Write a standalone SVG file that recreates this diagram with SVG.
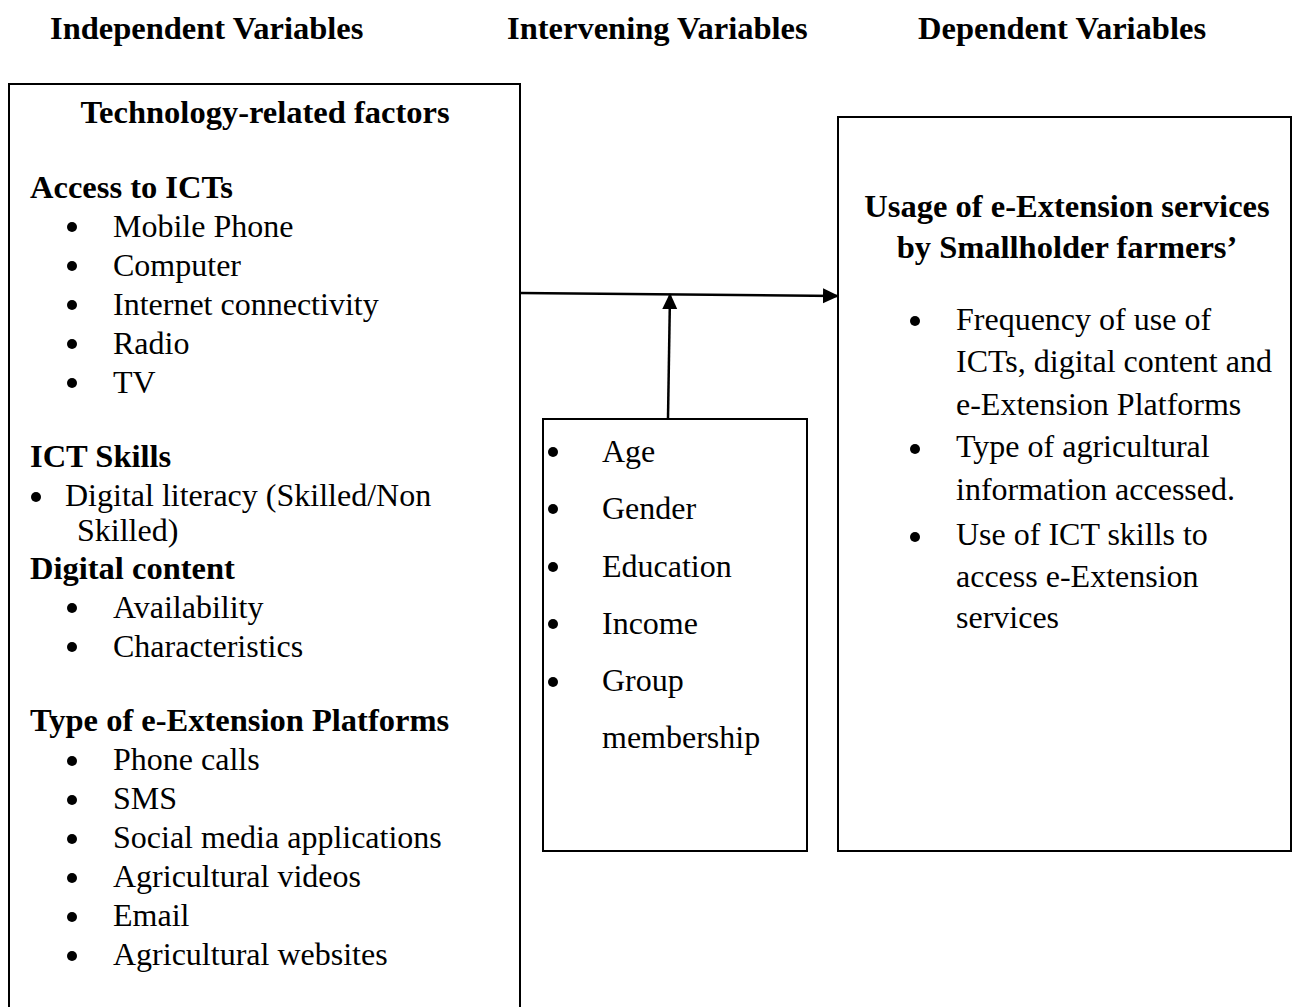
<svg xmlns="http://www.w3.org/2000/svg" width="1293" height="1007" viewBox="0 0 1293 1007">
  <style>
    text { font-family: "Liberation Serif", "Times New Roman", serif; font-size: 32px; fill: #000; }
    .b { font-weight: bold; font-size: 32.5px; }
    .mid { text-anchor: middle; }
    .box { fill: #fff; stroke: #000; stroke-width: 2; }
    .dot { fill: #000; }
    .conn { stroke: #000; stroke-width: 2.5; fill: none; }
  </style>
  <defs>
    <marker id="arrow" markerUnits="userSpaceOnUse" markerWidth="16" markerHeight="16" viewBox="0 0 16 16" refX="15" refY="8" orient="auto">
      <path d="M0,0.5 L16,8 L0,15.5 Z" fill="#000"/>
    </marker>
  </defs>

  <!-- column headings -->
  <g id="headings">
    <text class="b" x="50" y="39">Independent Variables</text>
    <text class="b" x="507" y="39">Intervening Variables</text>
    <text class="b" x="918" y="39">Dependent Variables</text>
  </g>

  <!-- independent variables -->
  <g id="independent">
    <rect class="box" x="9" y="84" width="511" height="940"/>
    <text class="b mid" x="265" y="123">Technology-related factors</text>

    <text class="b" x="30" y="198">Access to ICTs</text>
    <circle class="dot" cx="72" cy="227" r="5"/>
    <text x="113" y="237">Mobile Phone</text>
    <circle class="dot" cx="72" cy="266" r="5"/>
    <text x="113" y="276">Computer</text>
    <circle class="dot" cx="72" cy="305" r="5"/>
    <text x="113" y="315">Internet connectivity</text>
    <circle class="dot" cx="72" cy="344" r="5"/>
    <text x="113" y="354">Radio</text>
    <circle class="dot" cx="72" cy="383" r="5"/>
    <text x="113" y="393">TV</text>

    <text class="b" x="30" y="467">ICT Skills</text>
    <circle class="dot" cx="36" cy="497" r="5"/>
    <text x="65" y="506">Digital literacy (Skilled/Non</text>
    <text x="77" y="541">Skilled)</text>

    <text class="b" x="30" y="579">Digital content</text>
    <circle class="dot" cx="72" cy="608" r="5"/>
    <text x="113" y="618">Availability</text>
    <circle class="dot" cx="72" cy="647" r="5"/>
    <text x="113" y="657">Characteristics</text>

    <text class="b" x="30" y="731">Type of e-Extension Platforms</text>
    <circle class="dot" cx="72" cy="761" r="5"/>
    <text x="113" y="770">Phone calls</text>
    <circle class="dot" cx="72" cy="800" r="5"/>
    <text x="113" y="809">SMS</text>
    <circle class="dot" cx="72" cy="839" r="5"/>
    <text x="113" y="848">Social media applications</text>
    <circle class="dot" cx="72" cy="878" r="5"/>
    <text x="113" y="887">Agricultural videos</text>
    <circle class="dot" cx="72" cy="917" r="5"/>
    <text x="113" y="926">Email</text>
    <circle class="dot" cx="72" cy="956" r="5"/>
    <text x="113" y="965">Agricultural websites</text>
  </g>

  <!-- intervening variables -->
  <g id="intervening">
    <rect class="box" x="543" y="419" width="264" height="432"/>
    <circle class="dot" cx="553" cy="452" r="5"/>
    <text x="602" y="462">Age</text>
    <circle class="dot" cx="553" cy="509" r="5"/>
    <text x="602" y="519">Gender</text>
    <circle class="dot" cx="553" cy="567" r="5"/>
    <text x="602" y="577">Education</text>
    <circle class="dot" cx="553" cy="624" r="5"/>
    <text x="602" y="634">Income</text>
    <circle class="dot" cx="553" cy="682" r="5"/>
    <text x="602" y="691">Group</text>
    <text x="602" y="748">membership</text>
  </g>

  <!-- dependent variables -->
  <g id="dependent">
    <rect class="box" x="838" y="117" width="453" height="734"/>
    <text class="b mid" x="1067" y="217">Usage of e-Extension services</text>
    <text class="b mid" x="1067" y="258">by Smallholder farmers’</text>
    <circle class="dot" cx="915" cy="321" r="5"/>
    <text x="956" y="330">Frequency of use of</text>
    <text x="956" y="372">ICTs, digital content and</text>
    <text x="956" y="415">e-Extension Platforms</text>
    <circle class="dot" cx="915" cy="449" r="5"/>
    <text x="956" y="457">Type of agricultural</text>
    <text x="956" y="500">information accessed.</text>
    <circle class="dot" cx="915" cy="537" r="5"/>
    <text x="956" y="545">Use of ICT skills to</text>
    <text x="956" y="587">access e-Extension</text>
    <text x="956" y="628">services</text>
  </g>

  <!-- connectors -->
  <g id="connectors">
    <line class="conn" x1="520" y1="293" x2="838" y2="296" marker-end="url(#arrow)"/>
    <line class="conn" x1="668" y1="418" x2="670" y2="294" marker-end="url(#arrow)"/>
  </g>
</svg>
